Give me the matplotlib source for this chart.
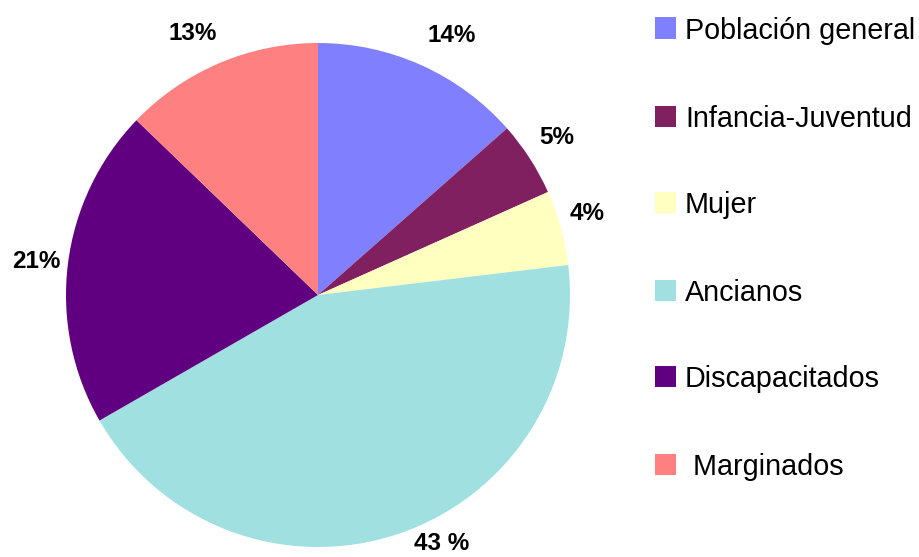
import matplotlib
matplotlib.use("Agg")
import matplotlib.pyplot as plt
from matplotlib.patches import Rectangle

categories = ["Población general", "Infancia-Juventud", "Mujer", "Ancianos",
              "Discapacitados", " Marginados"]
values = [13.5, 4.8, 4.8, 43.6, 20.5, 12.8]
pct_labels = ["14%", "5%", "4%", "43 %", "21%", "13%"]
colors = ["#8080FF", "#802060", "#FFFFC0", "#A0E0E0", "#600080", "#FF8080"]

plt.rcParams['font.family'] = ['Liberation Sans', 'DejaVu Sans']

W, H = 919, 557
fig = plt.figure(figsize=(W / 100, H / 100), dpi=100)
cx, cy, r = 318, 295, 252
ax = fig.add_axes([(cx - r) / W, (H - cy - r) / H, 2 * r / W, 2 * r / H])
wedges, texts = ax.pie(values, labels=pct_labels, colors=colors, startangle=90,
                       counterclock=False, radius=1, labeldistance=1.14,
                       wedgeprops=dict(linewidth=0))
# label placement (pixel positions of label centres in the layout)
label_px = [(452, 36), (557, 137), (587, 214), (442, 544), (36, 262), (193, 33)]
for t, (px, py) in zip(texts, label_px):
    t.set_position(((px - cx) / r, (cy - py) / r))
    t.set_ha('center')
    t.set_va('center')
    t.set_fontsize(17.5)
    t.set_fontweight('bold')
ax.set_xlim(-1, 1)
ax.set_ylim(-1, 1)
ax.set_aspect('equal')
ax.axis('off')

# legend drawn manually
ys = [28, 116, 202, 290, 376, 464]
for cat, col, y in zip(categories, colors, ys):
    fig.add_artist(Rectangle((655 / W, (H - y - 10.5) / H), 21 / W, 21 / H,
                             transform=fig.transFigure, facecolor=col,
                             edgecolor='none'))
    fig.text(685 / W, (H - y) / H, cat, fontsize=20.7, va='center_baseline',
             ha='left', color='#000000')

fig.savefig("out.png", dpi=100)
